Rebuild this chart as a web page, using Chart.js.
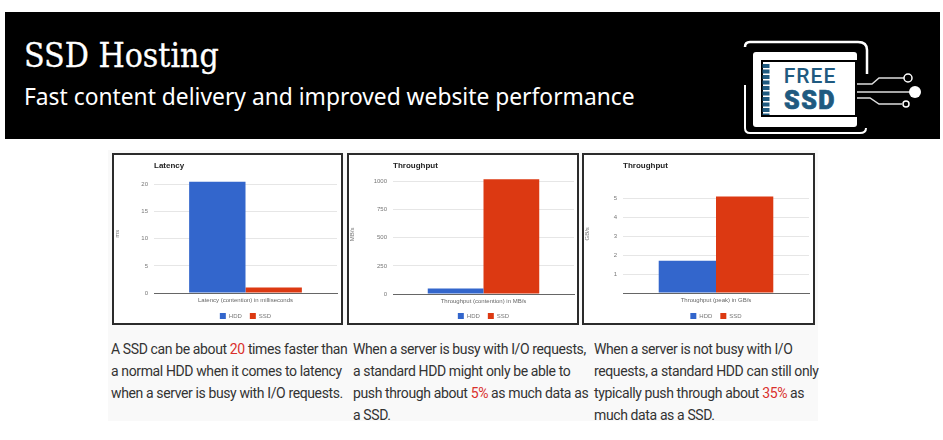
<!DOCTYPE html>
<html lang="en">
<head>
  <meta charset="UTF-8">
  <title>SSD Hosting</title>
  <style>
    html, body { margin: 0; padding: 0; background: #fff; }
    body { position: relative; width: 943px; height: 440px; overflow: hidden; font-family: 'Noto Sans', sans-serif; }
    .banner { position: absolute; left: 5px; top: 12px; width: 935px; height: 127px; background: #000; }
    .head { position: absolute; left: 24px; top: 36px; color: #fff; font: 33.5px/40px 'DejaVu Serif', serif; font-stretch: condensed; -webkit-text-stroke: 0.3px #fff; white-space: nowrap; }
    .sub { position: absolute; left: 24px; top: 82px; color: #fff; font: 22.8px/30px 'Noto Sans', sans-serif; white-space: nowrap; }
    .logo { position: absolute; left: 0; top: 0; }
    .sheet { position: absolute; left: 108px; top: 150px; width: 710px; height: 271px; background: #f9f9f9; }
    .panel { position: absolute; top: 153px; height: 172px; background: #fff; box-sizing: border-box; border: 2px solid #2b2b2b; }
    .panel canvas { position: absolute; left: 0; top: 0; filter: blur(0.55px); }
    .note { position: absolute; top: 338px; color: #333; font: 14px/22px Roboto, sans-serif; letter-spacing: -0.38px; white-space: nowrap; }
    .note b { font-weight: normal; color: #d9302c; }
  </style>
  <script src="https://cdn.jsdelivr.net/npm/chart.js"></script>
</head>
<body>
  <div class="banner"></div>
  <div class="head">SSD Hosting</div>
  <div class="sub">Fast content delivery and improved website performance</div>

  <svg class="logo" width="943" height="140">
    <path d="M745 47 Q745 42 750 42 L858 42 Q867 42 867 50 L867 74" fill="none" stroke="#fff" stroke-width="2.5"/>
    <path d="M745 85 L745 128 Q745 133 750 133 L860 133 Q866 133 866 128" fill="none" stroke="#fff" stroke-width="2"/>
    <rect x="753" y="52" width="104" height="75" rx="3" fill="#fff"/>
    <rect x="762" y="61" width="94" height="55" fill="#fff" stroke="#000" stroke-width="2"/>
    <path d="M766 64 L766 115" fill="none" stroke="#1f5a80" stroke-width="7" stroke-dasharray="4 1.5"/>
    <text x="810" y="83" text-anchor="middle" fill="#1f5a80" font-family="Roboto, sans-serif" font-weight="500" font-size="21" letter-spacing="1">FREE</text>
    <text x="810" y="109" text-anchor="middle" fill="#1f5a80" stroke="#1f5a80" stroke-width="0.7" font-family="Roboto, sans-serif" font-weight="900" font-size="25" letter-spacing="1.5">SSD</text>
    <path d="M857 84 L872 84 L879 78 L904 78 M857 92 L910 92 M857 98 L870 98 L879 104 L902 104" fill="none" stroke="#ddd" stroke-width="1.5"/>
    <circle cx="908" cy="78" r="4" fill="none" stroke="#fff" stroke-width="1.5"/>
    <circle cx="915" cy="92" r="6" fill="#fff"/>
    <circle cx="906" cy="104" r="3" fill="none" stroke="#fff" stroke-width="1.5"/>
  </svg>

  <div class="sheet"></div>
  <div class="panel" style="left:112px;width:231px"><canvas id="latencyChart"></canvas></div>
  <div class="panel" style="left:347px;width:232px"><canvas id="contentionChart"></canvas></div>
  <div class="panel" style="left:582px;width:233px"><canvas id="peakChart"></canvas></div>

  <div class="note" style="left:111px">A SSD can be about <b>20</b> times faster than<br>a normal HDD when it comes to latency<br>when a server is busy with I/O requests.</div>
  <div class="note" style="left:353px">When a server is busy with I/O requests,<br>a standard HDD might only be able to<br>push through about <b>5%</b> as much data as<br>a SSD.</div>
  <div class="note" style="left:594px">When a server is not busy with I/O<br>requests, a standard HDD can still only<br>typically push through about <b>35%</b> as<br>much data as a SSD.</div>

  <script>
    const seriesNames = ['HDD', 'SSD'];
    const seriesColors = ['#3366cc', '#dc3912'];

    const latencyCategory = ['Latency (contention) in milliseconds'];
    const latencyHdd = [20.5];
    const latencySsd = [1];
    const latencyTicks = [0, 5, 10, 15, 20];

    const contentionCategory = ['Throughput (contention) in MB/s'];
    const contentionHdd = [48];
    const contentionSsd = [1020];
    const contentionTicks = [0, 250, 500, 750, 1000];

    const peakCategory = ['Throughput (peak) in GB/s'];
    const peakHdd = [1.7];
    const peakSsd = [5.1];
    const peakTicks = [0, 1, 2, 3, 4, 5];

    Chart.defaults.font.family = "'Liberation Sans', Arial, sans-serif";
    Chart.defaults.animation = false;

    function drawPanel(id, o) {
      const canvas = document.getElementById(id);
      canvas.style.width = o.width + 'px';
      canvas.style.height = '168px';
      canvas.width = o.width;
      canvas.height = 168;
      return new Chart(canvas, {
        type: 'bar',
        data: {
          labels: o.labels,
          datasets: [
            { label: seriesNames[0], data: o.hdd, backgroundColor: seriesColors[0] },
            { label: seriesNames[1], data: o.ssd, backgroundColor: seriesColors[1] }
          ]
        },
        options: {
          responsive: false,
          layout: { padding: { top: 0, right: o.right, bottom: -6, left: 0 } },
          datasets: { bar: { categoryPercentage: 0.616, barPercentage: 1 } },
          plugins: {
            title: {
              display: true, text: o.title, align: 'start', fullSize: false, color: '#222',
              font: { size: 8, weight: 'bold' }, padding: { top: 6, bottom: 4 }
            },
            legend: {
              position: 'bottom', fullSize: false,
              labels: { boxWidth: 6, boxHeight: 6, padding: 8, color: '#777', font: { size: 6 } }
            },
            tooltip: { enabled: false }
          },
          scales: {
            x: {
              afterFit: s => { s.height = o.axisHeight; },
              grid: { display: false, drawTicks: false },
              border: { color: '#666' },
              ticks: { color: '#666', font: { size: 6 }, padding: 4 }
            },
            y: {
              min: 0, max: o.max,
              afterFit: s => { s.width = o.plotLeft; },
              afterBuildTicks: s => { s.ticks = o.ticks.map(v => ({ value: v })); },
              grid: { color: c => c.tick.value === 0 ? 'rgba(0,0,0,0)' : '#e6e6e6', drawTicks: false },
              border: { display: false },
              title: { display: true, text: o.unit, color: '#777', font: { size: 6 }, padding: 0 },
              ticks: {
                color: '#777', font: { size: 6 }, padding: 6,
                callback: v => (o.hideZero && v === 0) ? '' : v
              }
            }
          }
        }
      });
    }

    drawPanel('latencyChart', {
      width: 227, right: 4, plotLeft: 40, axisHeight: 12, max: 21.8, title: 'Latency', unit: 'ms',
      labels: latencyCategory, hdd: latencyHdd, ssd: latencySsd, ticks: latencyTicks
    });
    drawPanel('contentionChart', {
      width: 228, right: 3, plotLeft: 44, axisHeight: 11, max: 1062, title: 'Throughput', unit: 'MB/s',
      labels: contentionCategory, hdd: contentionHdd, ssd: contentionSsd, ticks: contentionTicks
    });
    drawPanel('peakChart', {
      width: 229, right: 4, plotLeft: 39, axisHeight: 12, max: 6.26, title: 'Throughput', unit: 'GB/s', hideZero: true,
      labels: peakCategory, hdd: peakHdd, ssd: peakSsd, ticks: peakTicks
    });
  </script>
</body>
</html>
